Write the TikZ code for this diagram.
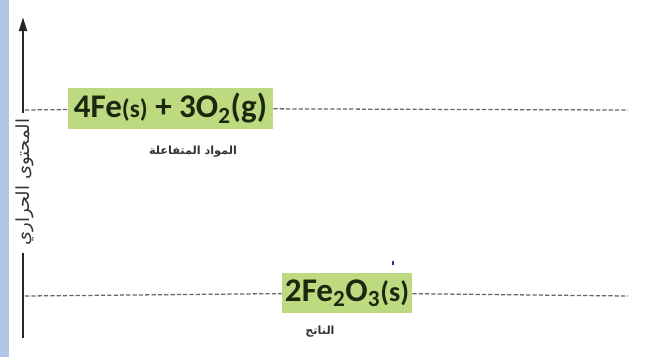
\documentclass[tikz,border=0pt]{standalone}
\usepackage{fontspec}
\setmainfont{Carlito}
\newfontfamily\arabicfont[Script=Arabic]{DejaVu Sans}
\TeXXeTstate=1
\usetikzlibrary{arrows.meta}
\definecolor{levelgreen}{RGB}{190,218,128}
\definecolor{inkgreen}{RGB}{26,40,16}
\definecolor{sideblue}{RGB}{174,198,232}
\definecolor{dotblue}{RGB}{40,40,190}
\newcommand{\ar}[1]{\arabicfont\beginR #1\endR}

\begin{document}
\begin{tikzpicture}[x=0.025cm,y=-0.025cm,
    every node/.style={inner sep=0pt},
    levelbox/.style={fill=levelgreen, text=inkgreen, font=\bfseries\fontsize{23.5}{26}\selectfont},
    arlabel/.style={text=black!80, font=\bfseries\fontsize{8}{10}\selectfont},
    level/.style={black!60, line width=0.9pt, dash pattern=on 3pt off 1.5pt},
    axis/.style={black!85, line width=1.8pt}]
  \useasboundingbox (0,0) rectangle (646,357);
  \fill[sideblue] (0,0) rectangle (9,357);
  % energy axis
  \coordinate (axtip) at (23,17);
  \coordinate (axmid) at (23,113);
  \coordinate (axlow) at (23,253);
  \coordinate (axend) at (23,338);
  \node[arlabel, font=\fontsize{12.8}{13}\selectfont, rotate=90] (ylabel) at (25,182) {\ar{المحتوى الحراري}};
  \draw[axis, -{Triangle[length=10pt,width=5.5pt]}] (axmid) -- (axtip);
  \draw[axis] (axlow) -- (axend);
  % levels
  \coordinate (topstart) at (25,110);
  \coordinate (topend) at (628,110);
  \coordinate (lowstart) at (25,296);
  \coordinate (lowend) at (628,296);
  \node[levelbox, minimum width=5.125cm, minimum height=1.025cm] (react) at (170.5,108.5)
    {4Fe{\fontsize{18}{20}\selectfont(s)} + 3O\textsubscript{2}(g)};
  \node[levelbox, minimum width=3.25cm, minimum height=1.0cm] (prod) at (347,293)
    {2Fe\textsubscript{2}O\textsubscript{3}{\fontsize{20}{22}\selectfont(s)}};
  \draw[level] (topstart) -- (react);
  \draw[level] (react) -- (topend);
  \draw[level] (lowstart) -- (prod);
  \draw[level] (prod) -- (lowend);
  \node[arlabel] (reactlbl) at (193,152) {\ar{المواد المتفاعلة}};
  \node[arlabel] (prodlbl) at (320,332) {\ar{الناتج}};
  \fill[dotblue] (392,261) rectangle (394,265);
\end{tikzpicture}
\end{document}
